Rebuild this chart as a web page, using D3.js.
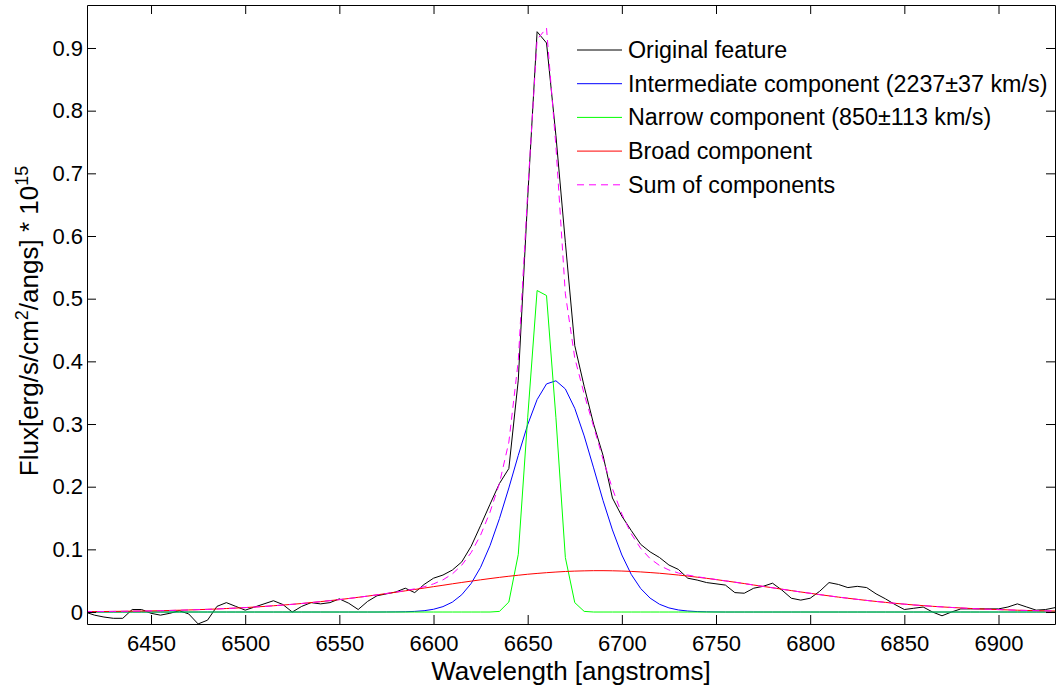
<!DOCTYPE html>
<html>
<head>
<meta charset="utf-8">
<script src="https://cdn.jsdelivr.net/npm/d3@7"></script>
<style>
  body { margin: 0; background: #fff; }
  text { font-family: "Liberation Sans", Arial, sans-serif; fill: #000; }
</style>
</head>
<body>
<div id="chart"></div>
<script>
// wavelength grid (angstroms)
const wavelength = [
  6415, 6420, 6425, 6430, 6435, 6440, 6445, 6450, 6455, 6460,
  6465, 6470, 6475, 6480, 6485, 6490, 6495, 6500, 6505, 6510,
  6515, 6520, 6525, 6530, 6535, 6540, 6545, 6550, 6555, 6560,
  6565, 6570, 6575, 6580, 6585, 6590, 6595, 6600, 6605, 6610,
  6615, 6620, 6625, 6630, 6635, 6640, 6645, 6650, 6655, 6660,
  6665, 6670, 6675, 6680, 6685, 6690, 6695, 6700, 6705, 6710,
  6715, 6720, 6725, 6730, 6735, 6740, 6745, 6750, 6755, 6760,
  6765, 6770, 6775, 6780, 6785, 6790, 6795, 6800, 6805, 6810,
  6815, 6820, 6825, 6830, 6835, 6840, 6845, 6850, 6855, 6860,
  6865, 6870, 6875, 6880, 6885, 6890, 6895, 6900, 6905, 6910,
  6915, 6920, 6925, 6930
];

// observed line profile
const original = [
  0.000, -0.005, -0.008, -0.010, -0.010, 0.004, 0.004, -0.002, -0.005, -0.002,
  0.002, -0.003, -0.019, -0.013, 0.009, 0.015, 0.009, 0.003, 0.008, 0.013,
  0.018, 0.012, 0.000, 0.009, 0.015, 0.013, 0.015, 0.021, 0.014, 0.004,
  0.017, 0.026, 0.029, 0.032, 0.038, 0.031, 0.044, 0.054, 0.059, 0.067,
  0.080, 0.105, 0.138, 0.172, 0.205, 0.229, 0.370, 0.660, 0.926, 0.908,
  0.760, 0.590, 0.425, 0.360, 0.300, 0.250, 0.182, 0.153, 0.130, 0.108,
  0.096, 0.087, 0.075, 0.068, 0.054, 0.051, 0.047, 0.045, 0.043, 0.031,
  0.030, 0.038, 0.041, 0.046, 0.035, 0.022, 0.019, 0.022, 0.033, 0.047,
  0.044, 0.039, 0.041, 0.039, 0.029, 0.021, 0.012, 0.004, 0.006, 0.008,
  0.000, -0.006, 0.000, 0.005, 0.005, 0.005, 0.005, 0.005, 0.008, 0.013,
  0.008, 0.003, 0.004, 0.007
];

// intermediate component (2237 km/s)
const intermediate = [
  0, 0, 0, 0, 0, 0, 0, 0, 0, 0,
  0, 0, 0, 0, 0, 0, 0, 0, 0, 0,
  0, 0, 0, 0, 0, 0, 0, 0, 0, 0,
  0, 0, 0.0001, 0.0002, 0.0004, 0.0010, 0.0021, 0.0044, 0.0086, 0.0158,
  0.0276, 0.0456, 0.0714, 0.106, 0.149, 0.198, 0.250, 0.299, 0.339, 0.364,
  0.369, 0.356, 0.325, 0.281, 0.230, 0.178, 0.131, 0.091, 0.060, 0.0375,
  0.0222, 0.0124, 0.0066, 0.0033, 0.0016, 0.0007, 0.0003, 0.0001, 0, 0,
  0, 0, 0, 0, 0, 0, 0, 0, 0, 0,
  0, 0, 0, 0, 0, 0, 0, 0, 0, 0,
  0, 0, 0, 0, 0, 0, 0, 0, 0, 0,
  0, 0, 0, 0
];

// narrow component (850 km/s)
const narrow = [
  0, 0, 0, 0, 0, 0, 0, 0, 0, 0,
  0, 0, 0, 0, 0, 0, 0, 0, 0, 0,
  0, 0, 0, 0, 0, 0, 0, 0, 0, 0,
  0, 0, 0, 0, 0, 0, 0, 0, 0, 0,
  0, 0, 0, 0, 0.001, 0.016, 0.092, 0.310, 0.513, 0.505,
  0.310, 0.087, 0.015, 0.001, 0, 0, 0, 0, 0, 0,
  0, 0, 0, 0, 0, 0, 0, 0, 0, 0,
  0, 0, 0, 0, 0, 0, 0, 0, 0, 0,
  0, 0, 0, 0, 0, 0, 0, 0, 0, 0,
  0, 0, 0, 0, 0, 0, 0, 0, 0, 0,
  0, 0, 0, 0
];

// broad component
const broad = [
  0.0006, 0.0007, 0.0008, 0.0010, 0.0012, 0.0014, 0.0016, 0.0018, 0.0021, 0.0025,
  0.0029, 0.0033, 0.0038, 0.0043, 0.0049, 0.0056, 0.0063, 0.0071, 0.0080, 0.0089,
  0.0100, 0.0111, 0.0123, 0.0136, 0.0151, 0.0166, 0.0182, 0.0198, 0.0216, 0.0235,
  0.0254, 0.0274, 0.0295, 0.0316, 0.0338, 0.0360, 0.0382, 0.0405, 0.0427, 0.0450,
  0.0472, 0.0493, 0.0514, 0.0534, 0.0553, 0.0571, 0.0587, 0.0603, 0.0616, 0.0628,
  0.0638, 0.0647, 0.0653, 0.0657, 0.0660, 0.0660, 0.0658, 0.0654, 0.0648, 0.0640,
  0.0630, 0.0619, 0.0605, 0.0590, 0.0574, 0.0556, 0.0538, 0.0518, 0.0497, 0.0476,
  0.0454, 0.0431, 0.0409, 0.0387, 0.0364, 0.0342, 0.0320, 0.0299, 0.0278, 0.0258,
  0.0238, 0.0220, 0.0202, 0.0185, 0.0169, 0.0154, 0.0139, 0.0126, 0.0113, 0.0102,
  0.0091, 0.0082, 0.0073, 0.0065, 0.0057, 0.0050, 0.0044, 0.0039, 0.0034, 0.0029,
  0.0025, 0.0022, 0.0019, 0.0016
];

// sum of components
const total = [
  0.0006, 0.0007, 0.0008, 0.0010, 0.0012, 0.0014, 0.0016, 0.0018, 0.0021, 0.0025,
  0.0029, 0.0033, 0.0038, 0.0043, 0.0049, 0.0056, 0.0063, 0.0071, 0.0080, 0.0089,
  0.0100, 0.0111, 0.0123, 0.0136, 0.0151, 0.0166, 0.0182, 0.0198, 0.0216, 0.0235,
  0.0254, 0.0274, 0.0296, 0.0318, 0.0342, 0.0370, 0.0403, 0.0449, 0.0513, 0.0608,
  0.0748, 0.0949, 0.1228, 0.1594, 0.2053, 0.2711, 0.4007, 0.6693, 0.9136, 0.9318,
  0.7428, 0.5077, 0.4053, 0.3477, 0.2960, 0.2440, 0.1968, 0.1564, 0.1248, 0.1015,
  0.0852, 0.0743, 0.0671, 0.0623, 0.0590, 0.0563, 0.0541, 0.0519, 0.0497, 0.0476,
  0.0454, 0.0431, 0.0409, 0.0387, 0.0364, 0.0342, 0.0320, 0.0299, 0.0278, 0.0258,
  0.0238, 0.0220, 0.0202, 0.0185, 0.0169, 0.0154, 0.0139, 0.0126, 0.0113, 0.0102,
  0.0091, 0.0082, 0.0073, 0.0065, 0.0057, 0.0050, 0.0044, 0.0039, 0.0034, 0.0029,
  0.0025, 0.0022, 0.0019, 0.0016
];

const xTicks = [6450, 6500, 6550, 6600, 6650, 6700, 6750, 6800, 6850, 6900];
const yTicks = [0, 0.1, 0.2, 0.3, 0.4, 0.5, 0.6, 0.7, 0.8, 0.9];
const legendLabels = [
  'Original feature',
  'Intermediate component (2237\u00b137 km/s)',
  'Narrow component (850\u00b1113 km/s)',
  'Broad component',
  'Sum of components'
];

// plot box
const W = 1058, H = 689;
const plotLeft = 87, plotRight = 1055, plotTop = 5, plotBottom = 624;

const svg = d3.select('#chart').append('svg')
  .attr('width', W)
  .attr('height', H);

const x = d3.scaleLinear().domain([6416, 6930]).range([plotLeft, plotRight]);
const y = d3.scaleLinear().domain([-0.0191, 0.9686]).range([plotBottom, plotTop]);

svg.append('clipPath').attr('id', 'plot-clip')
  .append('rect')
  .attr('x', plotLeft).attr('y', plotTop)
  .attr('width', plotRight - plotLeft).attr('height', plotBottom - plotTop);

// series drawn in legend order
const series = [
  { values: original, color: '#000000', dash: null },
  { values: intermediate, color: '#0000ff', dash: null },
  { values: narrow, color: '#00ff00', dash: null },
  { values: broad, color: '#ff0000', dash: null },
  { values: total, color: '#ff00ff', dash: '7,5' }
];

const line = d3.line()
  .x((d, i) => x(wavelength[i]))
  .y(d => y(d));

const plot = svg.append('g').attr('clip-path', 'url(#plot-clip)');
series.forEach(s => {
  plot.append('path')
    .datum(s.values)
    .attr('d', line)
    .attr('fill', 'none')
    .attr('stroke', s.color)
    .attr('stroke-width', 1)
    .attr('stroke-dasharray', s.dash);
});

// axes, ticks pointing inward on all four sides
const fontTicks = 22;
svg.append('g')
  .attr('transform', 'translate(0,' + plotBottom + ')')
  .call(d3.axisBottom(x).tickValues(xTicks).tickSizeInner(-9).tickSizeOuter(0).tickPadding(11)
    .tickFormat(d3.format('d')));
svg.append('g')
  .attr('transform', 'translate(' + plotLeft + ',0)')
  .call(d3.axisLeft(y).tickValues(yTicks).tickSizeInner(-9).tickSizeOuter(0).tickPadding(4)
    .tickFormat(d => d === 0 ? '0' : d3.format('.1f')(d)));
svg.append('g')
  .attr('transform', 'translate(0,' + plotTop + ')')
  .call(d3.axisTop(x).tickValues(xTicks).tickSizeInner(-9).tickSizeOuter(0).tickFormat(''));
svg.append('g')
  .attr('transform', 'translate(' + plotRight + ',0)')
  .call(d3.axisRight(y).tickValues(yTicks).tickSizeInner(-9).tickSizeOuter(0).tickFormat(''));

svg.selectAll('.domain, .tick line').attr('stroke', '#000');
svg.selectAll('.tick text')
  .attr('font-size', fontTicks)
  .attr('font-family', '"Liberation Sans", Arial, sans-serif')
  .attr('fill', '#000');

// axis labels
svg.append('text')
  .attr('x', (plotLeft + plotRight) / 2)
  .attr('y', 680)
  .attr('text-anchor', 'middle')
  .attr('font-size', 26)
  .text('Wavelength [angstroms]');

const yLabel = svg.append('text')
  .attr('transform', 'translate(38,321) rotate(-90)')
  .attr('text-anchor', 'middle')
  .attr('font-size', 26);
yLabel.append('tspan').text('Flux[erg/s/cm');
yLabel.append('tspan').attr('font-size', 18).attr('dy', -10).text('2');
yLabel.append('tspan').attr('dy', 10).text('/angs] * 10');
yLabel.append('tspan').attr('font-size', 18).attr('dy', -10).text('15');

// legend
const legend = svg.append('g').attr('transform', 'translate(577,50)');
legendLabels.forEach((label, i) => {
  const row = legend.append('g').attr('transform', 'translate(0,' + (i * 33.7) + ')');
  row.append('line')
    .attr('x1', 0).attr('x2', 45)
    .attr('y1', 0).attr('y2', 0)
    .attr('stroke', series[i].color)
    .attr('stroke-width', 1)
    .attr('stroke-dasharray', series[i].dash);
  row.append('text')
    .attr('x', 51)
    .attr('y', 8)
    .attr('font-size', 23.3)
    .text(label);
});
</script>
</body>
</html>
